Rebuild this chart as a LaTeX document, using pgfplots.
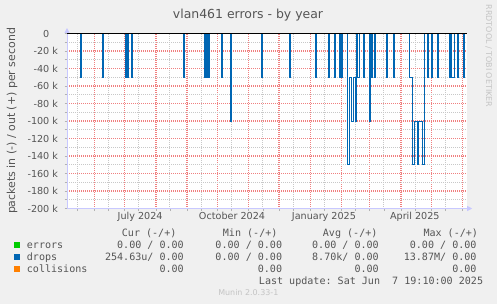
\documentclass[border=0pt]{standalone}
\usepackage{pgfplots}
\pgfplotsset{compat=1.18}
\usepackage{fontspec}
\setmainfont{DejaVu Sans}
\newfontfamily\mono{DejaVu Sans Mono}
\usetikzlibrary{arrows.meta}
\definecolor{bg}{HTML}{F0F0F0}
\definecolor{txt}{HTML}{555555}
\definecolor{axisblue}{HTML}{C8C8FF}
\definecolor{mgrid}{HTML}{F08080}
\definecolor{ngrid}{HTML}{C8C8C8}
\definecolor{errc}{HTML}{00CC00}
\definecolor{dropc}{HTML}{0066B3}
\definecolor{collc}{HTML}{FF8000}
\definecolor{wm}{HTML}{C4C4C4}
\begin{document}
\begin{tikzpicture}[x=1bp,y=1bp]
\path[use as bounding box, fill=bg] (0,0) rectangle (497,304);
\coordinate (AX) at (67,95.5);
\begin{axis}[
  at={(AX)}, anchor=south west,
  scale only axis, width=399.7bp, height=175bp,
  xmin=-27.06, xmax=369.1, ymin=-200, ymax=0,
  clip=false,
  axis background/.style={fill=white},
  axis lines=left,
  axis line style={draw=axisblue, line width=0.8bp},
  x axis line style={-{Triangle[length=5bp,width=5bp]}, shorten >=-5.5bp},
  y axis line style={-{Triangle[length=5bp,width=5bp]}, shorten >=-5.5bp},
  xtick={0,30,61,92,122,153,183,214,245,273,304,334,365},
  xticklabels={},
  minor xtick={-17,14,44,75,106,136,167,197,228,259,287,318,348},
  extra x ticks={45.4,136.5,227.6,317.7},
  extra x tick labels={July 2024,October 2024,January 2025,April 2025},
  extra x tick style={grid=none, major tick length=0pt,
     xticklabel style={anchor=north, inner sep=0pt, yshift=-3.6bp}},
  ytick={-200,-180,-160,-140,-120,-100,-80,-60,-40,-20,0},
  yticklabels={-200 k,-180 k,-160 k,-140 k,-120 k,-100 k,-80 k,-60 k,-40 k,-20 k,0\hphantom{\ k}},
  minor ytick={-190,-170,-150,-130,-110,-90,-70,-50,-30,-10},
  grid=both,
  major grid style={draw=mgrid, dash pattern=on 1bp off 1bp, line width=1.3bp},
  minor grid style={draw=ngrid, dash pattern=on 1bp off 1bp, line width=1bp},
  tick align=outside,
  major tick length=2.5bp, minor tick length=2.5bp,
  tick style={draw=gray!60, line width=0.6bp},
  tick label style={font=\fontsize{9.66}{11}\selectfont, text=txt},
  yticklabel style={anchor=east, inner sep=0pt, xshift=-6.3bp},
]
% errors (in/out all zero)
\addplot[errc, line width=0.8bp] coordinates {(-27.06,0) (369.1,0)};
% collisions (all zero)
\addplot[collc, line width=0.8bp] coordinates {(-27.06,0) (369.1,0)};
% drops (in, drawn negative), in thousands of packets per second
\addplot[const plot, dropc, line width=0.7bp] coordinates {
(-27.06,0)
(-14.2,-50) (-13.2,0)
(7.9,-50) (8.9,0)
(30.7,-50) (31.7,0)
(32.7,-50) (33.7,0)
(36.7,-50) (37.7,0)
(88.2,-50) (89.2,0)
(108.7,-50) (109.7,0)
(111,-50) (112,0)
(113,-50) (114,0)
(125.6,-50) (126.6,0)
(134.8,-100) (135.8,0)
(165.2,-50) (166.2,0)
(193.3,-50) (194.3,0)
(218.7,-50) (219.7,0)
(231.9,-50) (232.9,0)
(237.9,-50) (238.9,0)
(242.8,-50) (243.8,0)
(245,-50) (246,0)
(250.9,-150) (252.4,-50) (254.9,-100) (256.4,-50) (258.4,-100) (259.9,0)
(261.2,-50) (262.2,0)
(266.6,-50) (267.6,0)
(272.5,-100) (273.5,0)
(274.7,-50) (275.7,0)
(277.2,-50) (278.2,0)
(289.8,-50) (290.8,0)
(296.3,-50) (297.3,0)
(312.4,-50) (315.4,-150) (316.8,-100) (320.3,-150) (321.6,-100) (325.3,-150) (327,0)
(330.2,-50) (331.2,0)
(334.4,-50) (335.4,0)
(339.9,-50) (340.9,0)
(351.5,-50) (352.5,0)
(354.2,-50) (356.5,0)
(359.8,-50) (360.8,0)
(365.9,-50) (366.9,0)
(369.1,0)
};
% zero rule
\addplot[black, line width=1bp] coordinates {(-27.06,0) (369.1,0)};
\end{axis}
% title and axis title
\node[anchor=base, inner sep=0pt, font=\fontsize{12.5}{14}\selectfont, text=txt] at (248,285.7) {vlan461 errors - by year};
\node[rotate=90, anchor=base, inner sep=0pt, font=\fontsize{11}{13}\selectfont, text=txt] at (15,183) {packets in (-) / out (+) per second};
\node[rotate=-90, anchor=base, inner sep=0pt, font=\fontsize{8}{10}\selectfont, text=wm] at (486,248) {RRDTOOL / TOBI OETIKER};
% legend table
\begin{scope}[every node/.style={inner sep=0pt, text=txt, font=\mono\fontsize{10.1}{12}\selectfont}]
\node[anchor=base west] at (121.7,67.4) {Cur (-/+)};
\node[anchor=base west] at (222.7,67.4) {Min (-/+)};
\node[anchor=base west] at (322.7,67.4) {Avg (-/+)};
\node[anchor=base west] at (423.3,67.4) {Max (-/+)};
\fill[errc] (14,56) rectangle (20,62);
\fill[dropc] (14,43.7) rectangle (20,49.7);
\fill[collc] (14,32) rectangle (20,38);
\node[anchor=base west] at (26.7,55.6) {errors};
\node[anchor=base west] at (26.7,43.7) {drops};
\node[anchor=base west] at (26.7,31.7) {collisions};
\node[anchor=base east] at (184,55.6) {0.00 / 0.00};
\node[anchor=base east] at (282.3,55.6) {0.00 / 0.00};
\node[anchor=base east] at (379,55.6) {0.00 / 0.00};
\node[anchor=base east] at (476.7,55.6) {0.00 / 0.00};
\node[anchor=base east] at (184,43.7) {254.63u/ 0.00};
\node[anchor=base east] at (282.3,43.7) {0.00 / 0.00};
\node[anchor=base east] at (379,43.7) {8.70k/ 0.00};
\node[anchor=base east] at (476.7,43.7) {13.87M/ 0.00};
\node[anchor=base east] at (184,31.7) {0.00};
\node[anchor=base east] at (282.3,31.7) {0.00};
\node[anchor=base east] at (379,31.7) {0.00};
\node[anchor=base east] at (476.7,31.7) {0.00};
\node[anchor=base east] at (483.3,19.7) {Last update:\ Sat Jun\ \ 7 19:10:00 2025};
\end{scope}
\node[anchor=base, inner sep=0pt, font=\fontsize{8}{10}\selectfont, text=wm] at (248.3,8.3) {Munin 2.0.33-1};
\end{tikzpicture}
\end{document}
